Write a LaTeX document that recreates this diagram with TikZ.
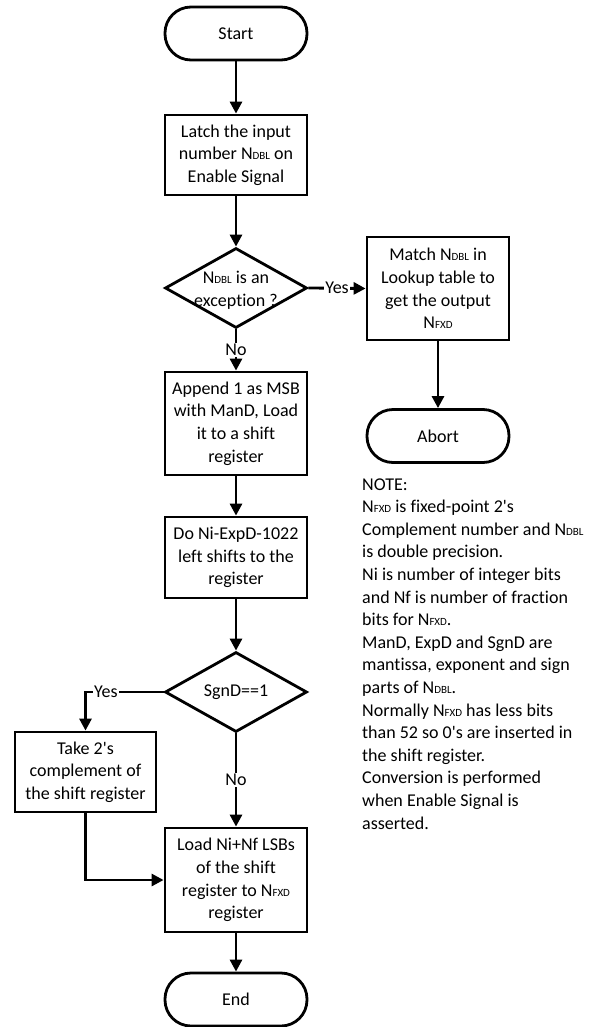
\documentclass[tikz,border=0pt]{standalone}
\usepackage{fontspec}
\setmainfont{Carlito}[Ligatures={TeXOff,NoCommon}]
\usetikzlibrary{shapes.geometric,arrows.meta}

% small capitals used for the N_DBL / N_FXD indices
\newcommand{\idx}[1]{{\fontsize{11bp}{11bp}\selectfont #1}}

\tikzset{
  base/.style={draw=black, line width=2.8bp, inner sep=0pt,
               font=\fontsize{18bp}{22.6bp}\selectfont, align=center},
  terminal/.style={base, rectangle, rounded corners=26bp,
                   minimum width=142bp, minimum height=53bp},
  process/.style={base, rectangle, minimum width=142bp},
  decision/.style={base, diamond, minimum width=142bp, minimum height=80bp},
  txt/.style={inner sep=0pt, font=\fontsize{18bp}{22.6bp}\selectfont, align=center},
  flow/.style={line width=2.8bp, -{Triangle[length=12bp,width=12bp]}},
  tag/.style={fill=white, inner sep=1.5bp, font=\fontsize{18bp}{22.6bp}\selectfont},
}

\begin{document}
\begin{tikzpicture}[x=1bp, y=-1bp]
\useasboundingbox (0,0) rectangle (590,1027);

% main column
\node[terminal] (start) at (236,33.5) {Start};
\node[process, minimum height=80bp] (latch) at (236,155)
  {Latch the input\\ number N\idx{DBL} on\\ Enable Signal};
\node[decision] (exc) at (236,288) {};
\node[txt] (exctxt) at (236,290) {N\idx{DBL} is an\\ exception ?};
\node[process, minimum height=103bp] (append) at (236,423.5)
  {Append 1 as MSB\\ with ManD, Load\\ it to a shift\\ register};
\node[process, minimum height=81bp] (shift) at (236,557.5)
  {Do Ni-ExpD-1022\\ left shifts to the\\ register};
\node[decision] (sgn) at (236,692) {};
\node[txt] (sgntxt) at (236,692) {SgnD==1};
\node[process, minimum height=104bp] (load) at (236,880)
  {Load Ni+Nf LSBs\\ of the shift\\ register to N\idx{FXD}\\ register};
\node[terminal] (finish) at (236,999.5) {End};

% exception branch
\node[process, minimum height=103bp] (match) at (438,288.5)
  {Match N\idx{DBL} in\\ Lookup table to\\ get the output\\ N\idx{FXD}};
\node[terminal] (abort) at (438,436) {Abort};

% sign branch
\node[process, minimum width=141bp, minimum height=80bp] (twos) at (85.5,772)
  {Take 2's\\ complement of\\ the shift register};

% note
\node[inner sep=0pt, anchor=north west, align=left,
      font=\fontsize{18bp}{22.6bp}\selectfont] (note) at (362,474)
  {\strut NOTE:\\
   N\idx{FXD} is fixed-point 2's\\
   Complement number and N\idx{DBL}\\
   is double precision.\\
   Ni is number of integer bits\\
   and Nf is number of fraction\\
   bits for N\idx{FXD}.\\
   ManD, ExpD and SgnD are\\
   mantissa, exponent and sign\\
   parts of N\idx{DBL}.\\
   Normally N\idx{FXD} has less bits\\
   than 52 so 0's are inserted in\\
   the shift register.\\
   Conversion is performed\\
   when Enable Signal is\\
   asserted.};

% connectors
\draw[flow] (start) -- (latch);
\draw[flow] (latch) -- (exc);
\draw[flow] (exc.east) -- node[tag] {Yes} (match.west);
\draw[flow] (match) -- (abort);
\draw[flow] (exc.south) -- node[tag] {No} (append.north);
\draw[flow] (append) -- (shift);
\draw[flow] (shift) -- (sgn.north);
\draw[flow] (sgn.west) -| node[tag, pos=0.37] {Yes} (twos.north);
\draw[flow] (sgn.south) -- node[tag] {No} (load.north);
\draw[flow] (twos.south) |- (load.west);
\draw[flow] (load) -- (finish);
\end{tikzpicture}
\end{document}
